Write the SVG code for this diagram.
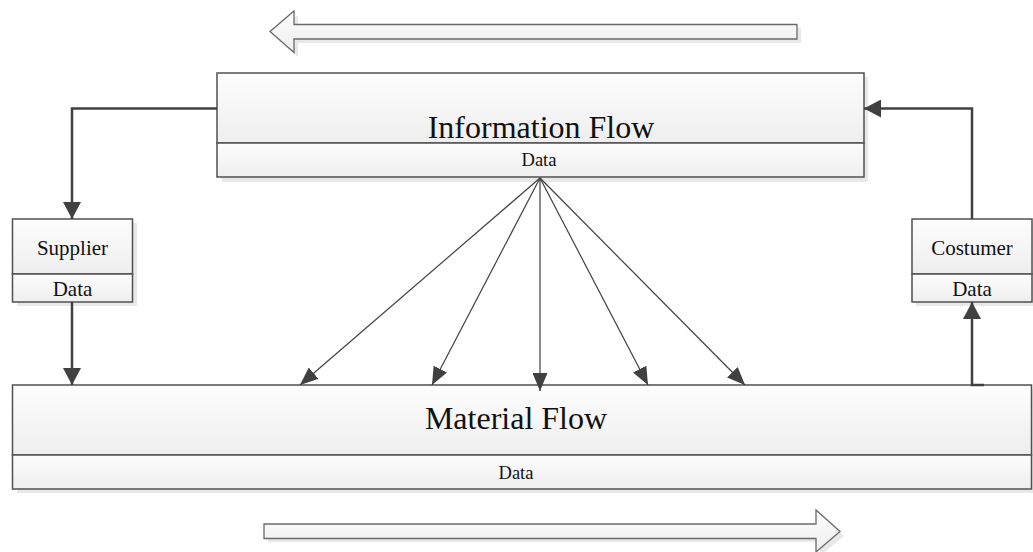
<svg xmlns="http://www.w3.org/2000/svg" width="1033" height="552" viewBox="0 0 1033 552">
  <defs>
    <linearGradient id="fillGrad" x1="0" y1="0" x2="0" y2="1">
      <stop offset="0" stop-color="#fdfdfd"/>
      <stop offset="1" stop-color="#eeeeee"/>
    </linearGradient>
    <marker id="headThick" markerUnits="userSpaceOnUse" markerWidth="18" markerHeight="18" refX="17" refY="9" orient="auto">
      <path d="M0,0 L17,9 L0,18 Z" fill="#404040"/>
    </marker>
    <marker id="headThin" markerUnits="userSpaceOnUse" markerWidth="19" markerHeight="15" refX="18" refY="7.5" orient="auto">
      <path d="M0,0 L18,7.5 L0,15 Z" fill="#404040"/>
    </marker>
  </defs>
  <style>
    .shadow { fill: #e8e8e8; stroke: none; }
    .box { fill: url(#fillGrad); stroke: #505050; stroke-width: 1.5; }
    .bigArrow { fill: url(#fillGrad); stroke: #6a6a6a; stroke-width: 1.3; }
    .title { font-family: "Liberation Serif", "Times New Roman", serif; font-size: 32px; fill: #111; text-anchor: middle; }
    .label { font-family: "Liberation Serif", "Times New Roman", serif; font-size: 21px; fill: #111; text-anchor: middle; }
    .small { font-size: 18.5px; }
    .thick { fill: none; stroke: #404040; stroke-width: 2.5; }
    .thin { fill: none; stroke: #404040; stroke-width: 1.2; }
  </style>

  <!-- direction arrow: information travels right to left -->
  <g id="info-direction">
    <path class="shadow" d="M274,35 L298,15 L298,28 L801,28 L801,43 L298,43 L298,57 Z"/>
    <path class="bigArrow" d="M270,31.5 L294,11 L294,24.5 L797,24.5 L797,39 L294,39 L294,52.5 Z"/>
  </g>

  <!-- direction arrow: material travels left to right -->
  <g id="material-direction">
    <path class="shadow" d="M268,528 L820,528 L820,514 L844,536 L820,556 L820,542 L268,542 Z"/>
    <path class="bigArrow" d="M264,524 L816,524 L816,510 L840,531.5 L816,552 L816,538.5 L264,538.5 Z"/>
  </g>

  <!-- Information Flow node -->
  <g id="information-flow">
    <rect class="shadow" x="222" y="77" width="646" height="105"/>
    <rect class="box" x="217" y="73" width="647" height="70"/>
    <rect class="box" x="217" y="143" width="647" height="34"/>
    <text class="title" x="541" y="138">Information Flow</text>
    <text class="label small" x="539" y="166">Data</text>
  </g>

  <!-- Supplier node -->
  <g id="supplier">
    <rect class="shadow" x="17" y="223" width="120" height="83"/>
    <rect class="box" x="12.5" y="219" width="120" height="55"/>
    <rect class="box" x="12.5" y="274" width="120" height="28"/>
    <text class="label" x="72.5" y="255">Supplier</text>
    <text class="label" x="72.5" y="296">Data</text>
  </g>

  <!-- Costumer node -->
  <g id="costumer">
    <rect class="shadow" x="916" y="223" width="117" height="83"/>
    <rect class="box" x="912" y="219" width="120" height="55"/>
    <rect class="box" x="912" y="274" width="120" height="28"/>
    <text class="label" x="972" y="255">Costumer</text>
    <text class="label" x="972" y="296">Data</text>
  </g>

  <!-- Material Flow node -->
  <g id="material-flow">
    <rect class="shadow" x="17" y="389" width="1016" height="104"/>
    <rect class="box" x="12.5" y="385" width="1019" height="70"/>
    <rect class="box" x="12.5" y="455" width="1019" height="34"/>
    <text class="title" x="516" y="429">Material Flow</text>
    <text class="label small" x="516" y="479">Data</text>
  </g>

  <!-- connectors -->
  <g id="connectors">
    <path class="thick" d="M217,108.5 H72 V219" marker-end="url(#headThick)"/>
    <path class="thick" d="M72,302 V385" marker-end="url(#headThick)"/>
    <path class="thick" d="M984,385 H972 V302" marker-end="url(#headThick)"/>
    <path class="thick" d="M972,219 V108.5 H864" marker-end="url(#headThick)"/>
    <line class="thin" x1="540" y1="178" x2="300" y2="385" marker-end="url(#headThin)"/>
    <line class="thin" x1="540" y1="178" x2="432" y2="385" marker-end="url(#headThin)"/>
    <line class="thin" x1="540" y1="178" x2="540" y2="391" marker-end="url(#headThin)"/>
    <line class="thin" x1="540" y1="178" x2="648" y2="385" marker-end="url(#headThin)"/>
    <line class="thin" x1="540" y1="178" x2="745" y2="385" marker-end="url(#headThin)"/>
  </g>
</svg>
